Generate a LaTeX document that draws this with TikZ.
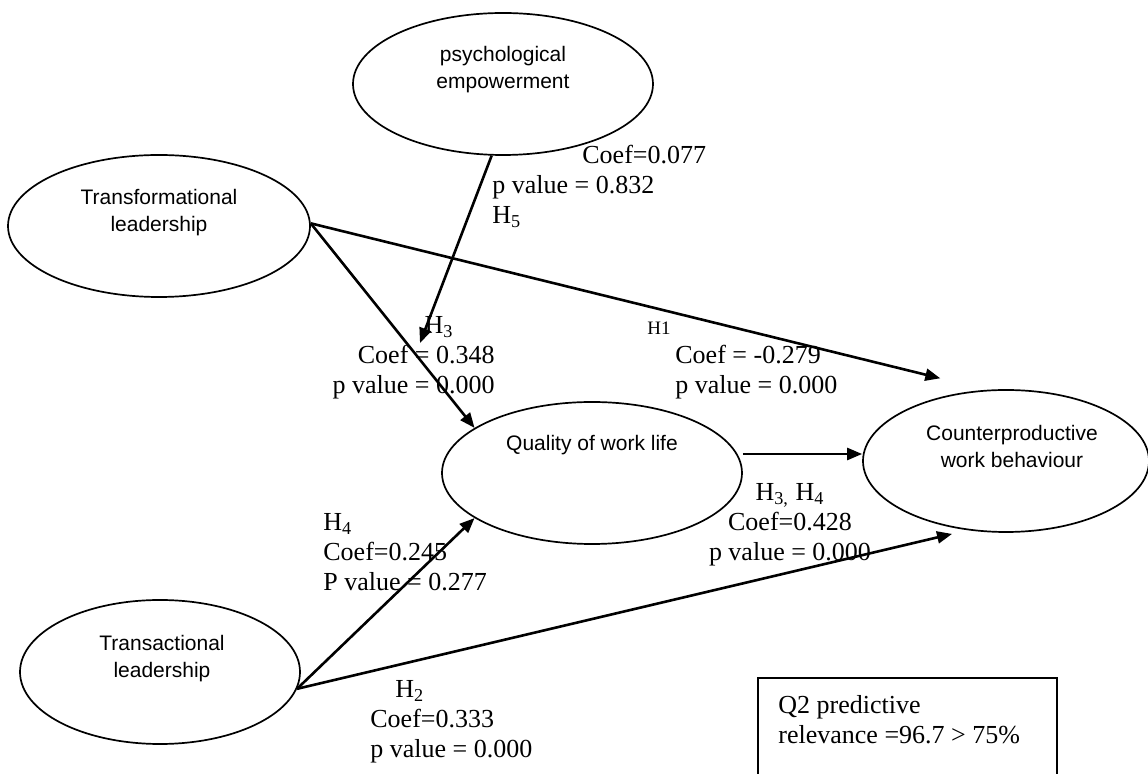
\documentclass[tikz,border=0pt]{standalone}
\usepackage{fontspec}
\setmainfont{Liberation Serif}
\setsansfont{Liberation Sans}
\usetikzlibrary{shapes.geometric,arrows.meta}
\tikzset{
    construct/.style={ellipse,draw,line width=0.85pt,inner sep=0pt,minimum height=71pt},
    constructtext/.style={align=center,inner sep=0pt,font=\sffamily\fontsize{10.5}{13.5}\selectfont},
    effect/.style={line width=1.3pt,-{Triangle[length=7.5pt,width=6pt]}},
    stat/.style={inner sep=0pt,font=\fontsize{13}{15}\selectfont},
}
\begin{document}
\begin{tikzpicture}[x=0.5pt,y=-0.5pt]
                \useasboundingbox (0,0) rectangle (1148,774);
                % constructs
                \node[construct,minimum width=150pt] (pe) at (503,84) {};
                \node[construct,minimum width=151pt] (tfl) at (159,226) {};
                \node[construct,minimum width=150pt] (qwl) at (592,473) {};
                \node[construct,minimum width=143pt] (cwb) at (1006,461) {};
                \node[construct,minimum width=140pt,minimum height=72pt] (tal) at (160,672) {};
                \node[constructtext] (petext) at ([yshift=7pt]pe.center) {psychological\\empowerment};
                \node[constructtext] (tfltext) at ([yshift=6.5pt]tfl.center) {Transformational\\leadership};
                \node[constructtext] (qwltext) at ([yshift=14pt]qwl.center) {Quality of work life};
                \node[constructtext] (cwbtext) at ([xshift=3pt,yshift=7.5pt]cwb.center) {Counterproductive\\work behaviour};
                \node[constructtext] (taltext) at ([xshift=1pt,yshift=6.5pt]tal.center) {Transactional\\leadership};
                % paths
                \coordinate (h5end) at (420,343);
                \draw[effect]
                    (pe.261) -- (h5end);
                \draw[effect]
                    (tfl.1) -- (qwl.159);
                \draw[effect,shorten >=24pt]
                    (tfl.1) -- (cwb.105);
                \draw[effect]
                    ([yshift=9.5pt]qwl.east) -- ([yshift=3.5pt]cwb.west);
                \draw[effect]
                    (tal.-7) -- (qwl.201);
                \draw[effect,shorten >=8pt]
                    (tal.-7) -- (cwb.241);
                % coefficients
                \node[stat,anchor=north west,align=left] (h5stat) at (492,145)
                    {\hspace*{45pt}Coef=0.077\\p value = 0.832\\H\textsubscript{5}};
                \node[stat,anchor=north east,align=right] (h3stat) at (495,316)
                    {H\textsubscript{3}\hspace*{20.5pt}\\Coef = 0.348\\p value = 0.000};
                \node[stat,anchor=base west,font=\fontsize{9.5}{11}\selectfont] (h1tag) at (647,335) {H1};
                \node[stat,anchor=north west,align=left] (h1stat) at (675,345)
                    {Coef = -0.279\\p value = 0.000};
                \node[stat,anchor=north,align=center] (h34stat) at (790,483)
                    {H\textsubscript{3,} H\textsubscript{4}\\Coef=0.428\\p value = 0.000};
                \node[stat,anchor=north west,align=left] (h4stat) at (323,513)
                    {H\textsubscript{4}\\Coef=0.245\\P value = 0.277};
                \node[stat,anchor=north west,align=left] (h2stat) at (370,680)
                    {\hspace*{12.5pt}H\textsubscript{2}\\Coef=0.333\\p value = 0.000};
                % predictive relevance
                \node[draw,line width=1pt,anchor=north west,minimum width=149.5pt,minimum height=62pt] (q2box) at (757,677) {};
                \node[stat,anchor=north west,align=left] (q2text) at ([shift={(21,18)}]q2box.north west)
                    {Q2 predictive\\relevance =96.7 > 75\%};
\end{tikzpicture}
\end{document}
